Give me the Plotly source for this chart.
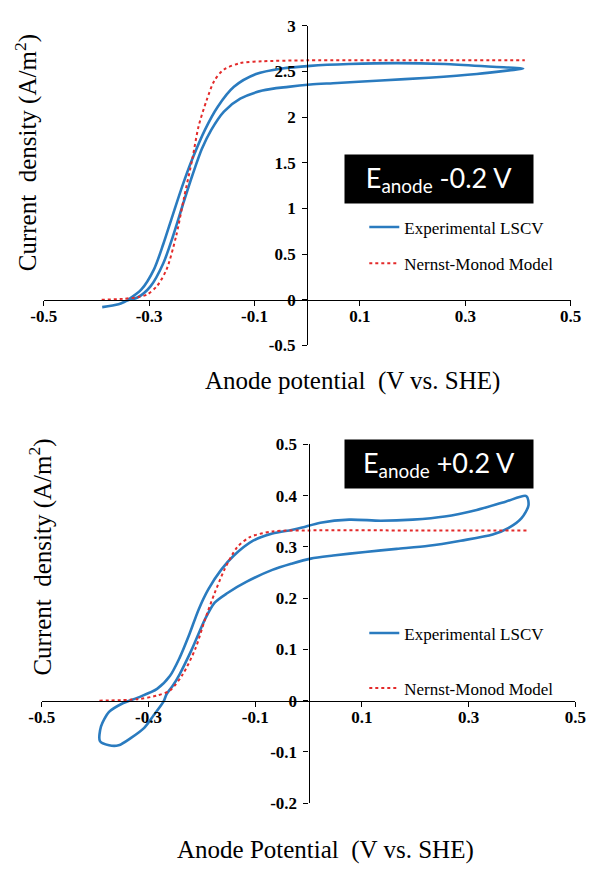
import plotly.graph_objects as go

# ---- Upper panel: E_anode -0.2 V ----
top_exp_v = [-0.389, -0.358, -0.340, -0.322, -0.297, -0.273, -0.255, -0.236, -0.218, -0.200,
             -0.182, -0.158, -0.127, -0.085, -0.036, 0.006, 0.049, 0.140, 0.231, 0.322,
             0.383, 0.410, 0.352, 0.261, 0.170, 0.079, 0.006, -0.048, -0.097, -0.139,
             -0.170, -0.194, -0.218, -0.236, -0.255, -0.273, -0.291, -0.315, -0.340]
top_exp_j = [-0.08, -0.05, -0.005, 0.025, 0.15, 0.40, 0.69, 1.04, 1.36, 1.65,
             1.86, 2.06, 2.20, 2.29, 2.33, 2.355, 2.37, 2.40, 2.43, 2.47,
             2.51, 2.53, 2.55, 2.58, 2.59, 2.58, 2.56, 2.53, 2.47, 2.33,
             2.11, 1.86, 1.54, 1.26, 0.93, 0.61, 0.33, 0.11, 0.0]
top_model_v = [-0.390, -0.350, -0.320, -0.303, -0.285, -0.267, -0.249, -0.234, -0.218, -0.206,
               -0.191, -0.176, -0.158, -0.127, -0.085, 0.000, 0.200, 0.413]
top_model_j = [0.0, 0.01, 0.03, 0.06, 0.15, 0.33, 0.69, 1.11, 1.54, 1.90,
               2.18, 2.40, 2.52, 2.59, 2.61, 2.62, 2.62, 2.62]

# ---- Lower panel: E_anode +0.2 V ----
bot_exp_v = [-0.374, -0.356, -0.332, -0.308, -0.290, -0.272, -0.266, -0.254, -0.242, -0.218,
             -0.194, -0.176, -0.152, -0.116, -0.068, -0.032, 0.004, 0.046, 0.106, 0.165,
             0.225, 0.285, 0.345, 0.375, 0.399, 0.412, 0.408, 0.369, 0.315, 0.255,
             0.195, 0.135, 0.076, 0.022, -0.014, -0.032, -0.068, -0.104, -0.140, -0.164,
             -0.188, -0.206, -0.224, -0.242, -0.260, -0.284, -0.320, -0.350, -0.374, -0.389,
             -0.391, -0.374]
bot_exp_j = [-0.087, -0.087, -0.072, -0.053, -0.028, -0.002, 0.013, 0.030, 0.051, 0.102,
             0.159, 0.191, 0.210, 0.232, 0.255, 0.267, 0.277, 0.283, 0.290, 0.296,
             0.302, 0.312, 0.324, 0.337, 0.356, 0.381, 0.399, 0.388, 0.372, 0.359,
             0.353, 0.351, 0.353, 0.347, 0.337, 0.333, 0.326, 0.312, 0.283, 0.255,
             0.217, 0.178, 0.128, 0.083, 0.048, 0.023, 0.006, -0.006, -0.022, -0.050,
             -0.079, -0.087]
bot_model_v = [-0.392, -0.320, -0.284, -0.260, -0.236, -0.212, -0.194, -0.176, -0.158, -0.134,
               -0.110, -0.068, 0.000, 0.200, 0.413]
bot_model_j = [0.0, 0.003, 0.010, 0.020, 0.051, 0.102, 0.159, 0.210, 0.255, 0.299,
               0.319, 0.330, 0.332, 0.332, 0.332]

x_ticks = [-0.5, -0.3, -0.1, 0.1, 0.3, 0.5]
top_y_ticks = [-0.5, 0, 0.5, 1, 1.5, 2, 2.5, 3]
bot_y_ticks = [-0.2, -0.1, 0, 0.1, 0.2, 0.3, 0.4, 0.5]

W, H = 597, 869
BLUE = "#2A7BBF"
RED = "#E32A2A"
SERIF = '"Liberation Serif", "Times New Roman", "DejaVu Serif", serif'
SANS = 'Lato, "Open Sans", sans-serif'


def label(v):
    return "%g" % v


def cross(rng, dom, at=0.0):
    """paper coordinate where value `at` sits on an axis with range rng and domain dom"""
    return dom[0] + (at - rng[0]) / (rng[1] - rng[0]) * (dom[1] - dom[0])


top_xr, top_yr = [-0.5, 0.5], [-0.5, 3.0]
bot_xr, bot_yr = [-0.5, 0.5], [-0.2, 0.5]
top_xd = [32 / W, 581 / W]
top_yd = [(H - 344) / H, (H - 17) / H]
bot_xd = [30 / W, 586 / W]
bot_yd = [(H - 812) / H, (H - 445) / H]

fig = go.Figure()

fig.add_trace(go.Scatter(x=top_exp_v, y=top_exp_j, mode="lines", name="Experimental LSCV",
                         line=dict(color=BLUE, width=2.6, shape="spline", smoothing=0.8),
                         xaxis="x", yaxis="y", legend="legend", legendgroup="a"))
fig.add_trace(go.Scatter(x=top_model_v, y=top_model_j, mode="lines", name="Nernst-Monod Model",
                         line=dict(color=RED, width=2, dash="dot", shape="spline", smoothing=0.8),
                         xaxis="x", yaxis="y", legend="legend", legendgroup="b"))
fig.add_trace(go.Scatter(x=bot_exp_v, y=bot_exp_j, mode="lines", name="Experimental LSCV",
                         line=dict(color=BLUE, width=2.6, shape="spline", smoothing=0.8),
                         xaxis="x2", yaxis="y2", legend="legend2", legendgroup="c"))
fig.add_trace(go.Scatter(x=bot_model_v, y=bot_model_j, mode="lines", name="Nernst-Monod Model",
                         line=dict(color=RED, width=2, dash="dot", shape="spline", smoothing=0.8),
                         xaxis="x2", yaxis="y2", legend="legend2", legendgroup="d"))

tick_font = dict(family=SERIF, size=17, color="black", weight="bold")


def xaxis(rng, dom, pos):
    return dict(range=rng, domain=dom, anchor="free", position=pos,
                tickvals=x_ticks, ticktext=[label(v) for v in x_ticks],
                ticks="outside", ticklen=5, tickwidth=1.3, tickcolor="black",
                showline=True, linecolor="black", linewidth=1.3,
                showgrid=False, zeroline=False, tickfont=tick_font, ticklabelstandoff=-4)


def yaxis(rng, dom, pos, ticks):
    return dict(range=rng, domain=dom, anchor="free", position=pos,
                tickvals=ticks, ticktext=[label(v) for v in ticks],
                ticks="outside", ticklen=5, tickwidth=1.3, tickcolor="black",
                showline=True, linecolor="black", linewidth=1.3,
                showgrid=False, zeroline=False, tickfont=tick_font, ticklabelstandoff=3)


title_font = dict(family=SERIF, size=25, color="black")
box_font = dict(family=SANS, size=27, color="white")
legend_font = dict(family=SERIF, size=17, color="black")


def px_x(p):
    return p / W


def px_y(p):
    return (H - p) / H


def note(text, x, y, font, **kw):
    return dict(text=text, x=px_x(x), y=px_y(y), xref="paper", yref="paper",
                xanchor="center", yanchor="middle", showarrow=False, font=font, **kw)


fig.update_layout(
    width=W, height=H,
    margin=dict(l=0, r=0, t=0, b=0),
    paper_bgcolor="white", plot_bgcolor="rgba(0,0,0,0)",
    xaxis=xaxis(top_xr, top_xd, cross(top_yr, top_yd)),
    yaxis=yaxis(top_yr, top_yd, cross(top_xr, top_xd), top_y_ticks),
    xaxis2=xaxis(bot_xr, bot_xd, cross(bot_yr, bot_yd)),
    yaxis2=yaxis(bot_yr, bot_yd, cross(bot_xr, bot_xd), bot_y_ticks),
    legend=dict(x=px_x(366), y=px_y(205), xanchor="left", yanchor="top",
                bgcolor="rgba(0,0,0,0)", font=legend_font,
                traceorder="grouped", tracegroupgap=11),
    legend2=dict(x=px_x(366), y=px_y(620), xanchor="left", yanchor="top",
                 bgcolor="rgba(0,0,0,0)", font=legend_font,
                 traceorder="grouped", tracegroupgap=30),
    showlegend=True,
    annotations=[
        note("Current  density (A/m<sup>2</sup>)", 14, 147, title_font, textangle=-90),
        note("Anode potential  (V vs. SHE)", 354, 380, title_font),
        note("Current  density (A/m<sup>2</sup>)", 29, 560, title_font, textangle=-90),
        note("Anode Potential  (V vs. SHE)", 326, 860, title_font),
        note("E<sub>anode</sub> -0.2 V", 444, 174, box_font, bgcolor="black",
             width=188, height=48, borderpad=0, align="center", valign="middle"),
        note("E<sub>anode</sub> +0.2 V", 444, 465, box_font, bgcolor="black",
             width=188, height=48, borderpad=0, align="center", valign="middle"),
    ],
)

fig.write_html("out.html")
